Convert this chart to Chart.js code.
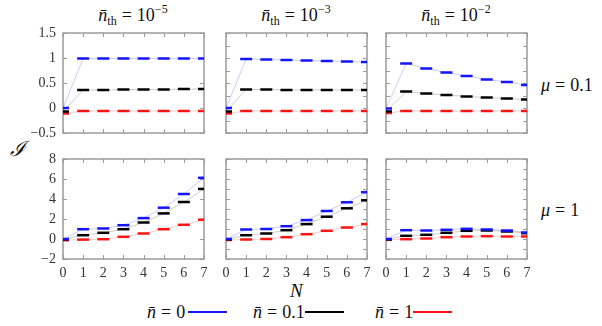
<!DOCTYPE html>
<html>
<head>
<meta charset="utf-8">
<script src="https://cdn.jsdelivr.net/npm/chart.js@4"></script>
<style>
  body { margin: 0; background: #fff; }
  #page { position: relative; width: 602px; height: 326px; overflow: hidden; font-family: "Liberation Serif", "DejaVu Serif", serif; color: #111; }
  .panel { position: absolute; }
  .lbl { position: absolute; white-space: nowrap; font-size: 18px; line-height: 1; }
  .lbl i { font-style: italic; }
  .lbl sub { font-size: 12px; vertical-align: -4px; line-height: 0; }
  .lbl sup { font-size: 12px; vertical-align: 8px; line-height: 0; }
  .eq { margin: 0 5px; }
  .key { display: inline-block; width: 39px; height: 0; border-top: 2px solid; vertical-align: 5px; }
</style>
</head>
<body>
<div id="page">
  <div class="lbl" style="left:53px;top:6px;width:160px;text-align:center"><i>n̄</i><sub>th</sub><span class="eq">=</span>10<sup>−5</sup></div>
  <div class="lbl" style="left:216px;top:6px;width:160px;text-align:center"><i>n̄</i><sub>th</sub><span class="eq">=</span>10<sup>−3</sup></div>
  <div class="lbl" style="left:376px;top:6px;width:160px;text-align:center"><i>n̄</i><sub>th</sub><span class="eq">=</span>10<sup>−2</sup></div>
  <div class="lbl" style="left:541px;top:76px"><i>μ</i><span class="eq">=</span>0.1</div>
  <div class="lbl" style="left:541px;top:201px"><i>μ</i><span class="eq">=</span>1</div>
  <div class="lbl" style="left:10px;top:139px;font-size:21px"><i>ℐ</i></div>
  <div class="lbl" style="left:290px;top:281px;font-size:19px"><i>N</i></div>
  <div class="lbl" style="left:147px;top:303px"><i>n̄</i><span class="eq">=</span>0<span class="key" style="border-color:#1414ff;margin-left:3px"></span></div>
  <div class="lbl" style="left:253px;top:303px"><i>n̄</i><span class="eq">=</span>0.1<span class="key" style="border-color:#000;margin-left:0px"></span></div>
  <div class="lbl" style="left:375px;top:303px"><i>n̄</i><span class="eq">=</span>1<span class="key" style="border-color:#ff1414;margin-left:0px"></span></div>
</div>
<script>
// photon number N on the x axis
const steps = [0, 1, 2, 3, 4, 5, 6, 7];

// mu = 0.1 row
const blueMu01Th5 = [0.0, 0.99, 0.99, 0.99, 0.99, 0.99, 0.99, 0.99];
const blackMu01Th5 = [-0.07, 0.36, 0.36, 0.37, 0.37, 0.37, 0.38, 0.38];
const redMu01Th5 = [-0.11, -0.06, -0.06, -0.06, -0.06, -0.06, -0.06, -0.06];

const blueMu01Th3 = [0.0, 0.98, 0.97, 0.96, 0.95, 0.94, 0.93, 0.92];
const blackMu01Th3 = [-0.07, 0.37, 0.37, 0.36, 0.36, 0.36, 0.36, 0.36];
const redMu01Th3 = [-0.11, -0.06, -0.06, -0.06, -0.06, -0.06, -0.06, -0.06];

const blueMu01Th2 = [-0.01, 0.89, 0.79, 0.71, 0.64, 0.57, 0.52, 0.46];
const blackMu01Th2 = [-0.07, 0.33, 0.29, 0.26, 0.23, 0.21, 0.19, 0.17];
const redMu01Th2 = [-0.1, -0.06, -0.06, -0.06, -0.06, -0.06, -0.06, -0.06];

// mu = 1 row
const blueMu1Th5 = [0.0, 0.98, 1.05, 1.38, 2.09, 3.13, 4.5, 6.12];
const blackMu1Th5 = [-0.03, 0.38, 0.62, 0.98, 1.65, 2.56, 3.7, 5.01];
const redMu1Th5 = [-0.12, -0.06, -0.02, 0.22, 0.55, 0.98, 1.42, 1.93];

const blueMu1Th3 = [0.0, 0.95, 1.0, 1.28, 1.89, 2.8, 3.67, 4.68];
const blackMu1Th3 = [-0.03, 0.38, 0.55, 0.88, 1.49, 2.23, 3.07, 3.87];
const redMu1Th3 = [-0.1, -0.05, 0.0, 0.18, 0.48, 0.82, 1.15, 1.49];

const blueMu1Th2 = [0.0, 0.88, 0.85, 0.92, 1.02, 0.95, 0.85, 0.65];
const blackMu1Th2 = [-0.03, 0.32, 0.42, 0.62, 0.82, 0.85, 0.75, 0.58];
const redMu1Th2 = [-0.08, -0.02, 0.05, 0.18, 0.25, 0.28, 0.25, 0.25];

const colLeft = [63, 226, 386];
const rowTop = [33, 159];
const plotW = 141, plotH = 100;

// inward ticks on all four sides + grey box, gnuplot style
const frame = {
  id: "frame",
  beforeDatasetsDraw(chart) {
    const { ctx, chartArea: a, scales } = chart;
    ctx.save();
    ctx.strokeStyle = "#9a9a9a";
    ctx.lineWidth = 1;
    ctx.beginPath();
    scales.x.ticks.forEach((t, i) => {
      const px = Math.round(scales.x.getPixelForTick(i)) + 0.5;
      ctx.moveTo(px, a.top); ctx.lineTo(px, a.top + 4);
      ctx.moveTo(px, a.bottom); ctx.lineTo(px, a.bottom - 4);
    });
    scales.y.ticks.forEach((t, i) => {
      const py = Math.round(scales.y.getPixelForTick(i)) + 0.5;
      ctx.moveTo(a.left, py); ctx.lineTo(a.left + 4, py);
      ctx.moveTo(a.right, py); ctx.lineTo(a.right - 4, py);
    });
    ctx.stroke();
    ctx.lineWidth = 1.5;
    ctx.strokeRect(a.left, a.top, a.right - a.left, a.bottom - a.top);
    ctx.restore();
  }
};

function series(vals, color, faint) {
  return {
    data: steps.map((n, i) => ({ x: n, y: vals[i] })),
    showLine: true,
    borderColor: faint,
    borderWidth: 1,
    pointStyle: "line",
    pointRadius: 6,
    pointHoverRadius: 6,
    pointBorderWidth: 2.5,
    pointBorderColor: color,
    clip: 0
  };
}

function makePanel(row, col, blue, black, red) {
  const padL = col === 0 ? 45 : 10;
  const padB = row === 1 ? 26 : 20;
  const padT = 20, padR = 10;
  const div = document.createElement("div");
  div.className = "panel";
  div.style.left = (colLeft[col] - padL) + "px";
  div.style.top = (rowTop[row] - padT) + "px";
  div.style.width = (plotW + padL + padR) + "px";
  div.style.height = (plotH + padT + padB) + "px";
  const canvas = document.createElement("canvas");
  div.appendChild(canvas);
  document.getElementById("page").appendChild(div);

  const top = row === 0;
  const tickFont = { family: "'Liberation Serif', 'DejaVu Serif', serif", size: 14 };
  new Chart(canvas, {
    type: "scatter",
    data: {
      datasets: [
        series(blue, "#1414ff", "rgba(20,20,255,0.22)"),
        series(black, "#000000", "rgba(0,0,0,0.2)"),
        series(red, "#ff1414", "rgba(255,20,20,0.22)")
      ]
    },
    options: {
      responsive: true,
      maintainAspectRatio: false,
      animation: false,
      events: [],
      layout: { padding: { top: padT, right: padR, left: 0, bottom: 0 } },
      plugins: { legend: { display: false }, tooltip: { enabled: false } },
      scales: {
        x: {
          type: "linear", min: 0, max: 7,
          grid: { display: false, drawTicks: false },
          border: { display: false },
          ticks: { stepSize: 1, display: !top, font: tickFont, color: "#333", padding: 6, maxRotation: 0 },
          afterFit: s => { s.height = padB; }
        },
        y: {
          min: top ? -0.5 : -2, max: top ? 1.5 : 8,
          grid: { display: false, drawTicks: false },
          border: { display: false },
          ticks: {
            stepSize: top ? 0.25 : 1,
            display: col === 0,
            font: tickFont, color: "#333", padding: 7,
            callback: v => {
              const every = top ? 0.5 : 2;
              if (Math.abs(v / every - Math.round(v / every)) > 1e-6) return "";
              return String(v).replace("-", "−");
            }
          },
          afterFit: s => { s.width = padL; }
        }
      }
    },
    plugins: [frame]
  });
}

makePanel(0, 0, blueMu01Th5, blackMu01Th5, redMu01Th5);
makePanel(0, 1, blueMu01Th3, blackMu01Th3, redMu01Th3);
makePanel(0, 2, blueMu01Th2, blackMu01Th2, redMu01Th2);
makePanel(1, 0, blueMu1Th5, blackMu1Th5, redMu1Th5);
makePanel(1, 1, blueMu1Th3, blackMu1Th3, redMu1Th3);
makePanel(1, 2, blueMu1Th2, blackMu1Th2, redMu1Th2);
</script>
</body>
</html>
